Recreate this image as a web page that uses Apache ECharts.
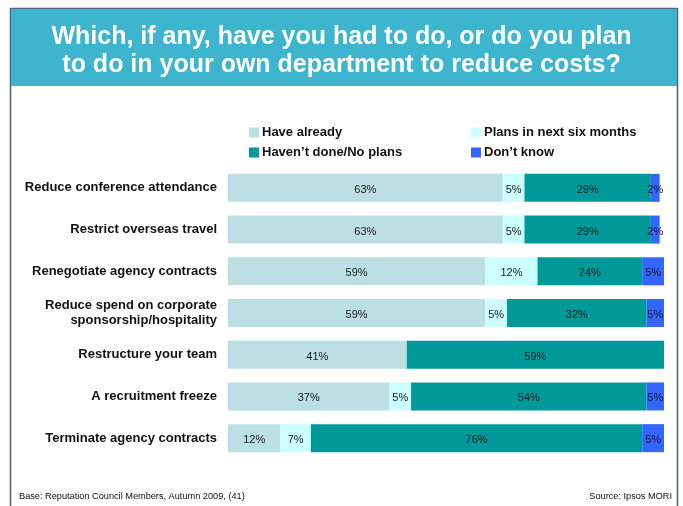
<!DOCTYPE html>
<html>
<head>
<meta charset="utf-8">
<script src="https://cdn.jsdelivr.net/npm/echarts@6/dist/echarts.min.js"></script>
<style>
  html, body { margin: 0; padding: 0; background: #fff; }
  #chart { width: 683px; height: 506px; }
</style>
</head>
<body>
<div id="chart"></div>
<script>
// Actions taken or planned to reduce departmental costs (% of respondents)
const categories = [
  'Reduce conference attendance',
  'Restrict overseas travel',
  'Renegotiate agency contracts',
  'Reduce spend on corporate\nsponsorship/hospitality',
  'Restructure your team',
  'A recruitment freeze',
  'Terminate agency contracts'
];
const haveAlready   = [63, 63, 59, 59, 41, 37, 12];
const plansSix      = [5, 5, 12, 5, 0, 5, 7];
const haventDone    = [29, 29, 24, 32, 59, 54, 76];
const dontKnow      = [2, 2, 5, 5, 0, 5, 5];

const seriesNames = ['Have already', 'Plans in next six months', 'Haven\u2019t done/No plans', 'Don\u2019t know'];
const seriesColors = ['#BBDFE2', '#CCFFFF', '#009999', '#3366FF'];
const seriesData = [haveAlready, plansSix, haventDone, dontKnow];

const FONT = 'Liberation Sans, Arial, sans-serif';

const chart = echarts.init(document.getElementById('chart'), null, { renderer: 'canvas' });

const series = seriesNames.map((name, i) => ({
  name,
  type: 'bar',
  stack: 'total',
  barWidth: 28,
  itemStyle: { color: seriesColors[i] },
  label: {
    show: true,
    position: 'inside',
    offset: [0, 2],
    fontFamily: FONT,
    fontSize: 11,
    color: '#1a1a1a',
    formatter: p => (p.value > 0 ? p.value + '%' : '')
  },
  emphasis: { disabled: true },
  data: seriesData[i]
}));

chart.setOption({
  animation: false,
  graphic: [
    // page frame
    { type: 'rect', shape: { x: 10.5, y: 8.5, width: 667, height: 520 },
      style: { fill: '#fff', stroke: '#4F6477', lineWidth: 1.5 }, z: -10 },
    // title band
    { type: 'rect', shape: { x: 11, y: 9, width: 666, height: 77 },
      style: { fill: '#3DB5CF' }, z: -5 },
    { type: 'text', left: 'center', top: 23,
      style: { text: 'Which, if any, have you had to do, or do you plan\nto do in your own department to reduce costs?',
               fill: '#fff', font: 'bold 25px ' + FONT, lineHeight: 28, textAlign: 'center' } },
    { type: 'text', left: 19, top: 492,
      style: { text: 'Base: Reputation Council Members, Autumn 2009, (41)', fill: '#111', font: '9.2px ' + FONT } },
    { type: 'text', right: 11, top: 492,
      style: { text: 'Source: Ipsos MORI', fill: '#111', font: '9.2px ' + FONT } }
  ],
  legend: [
    { data: [seriesNames[0], seriesNames[2]], orient: 'vertical', left: 244, top: 121,
      itemWidth: 10, itemHeight: 10, itemGap: 7, icon: 'rect', selectedMode: false,
      textStyle: { fontFamily: FONT, fontSize: 13, fontWeight: 'bold', color: '#111', padding: [0, 0, 0, -2] } },
    { data: [seriesNames[1], seriesNames[3]], orient: 'vertical', left: 466, top: 121,
      itemWidth: 10, itemHeight: 10, itemGap: 7, icon: 'rect', selectedMode: false,
      textStyle: { fontFamily: FONT, fontSize: 13, fontWeight: 'bold', color: '#111', padding: [0, 0, 0, -2] } }
  ],
  grid: { left: 228, right: 19, top: 167, height: 292, containLabel: false },
  xAxis: {
    type: 'value', min: 0, max: 100, show: false
  },
  yAxis: {
    type: 'category',
    data: categories,
    inverse: true,
    axisLine: { show: false },
    axisTick: { show: false },
    axisLabel: {
      fontFamily: FONT, fontSize: 13, fontWeight: 'bold', color: '#111',
      margin: 11, lineHeight: 15, verticalAlign: 'middle',
      // labels sit a little above the bar centre
      padding: [0, 0, 5, 0]
    }
  },
  series
});
</script>
</body>
</html>
